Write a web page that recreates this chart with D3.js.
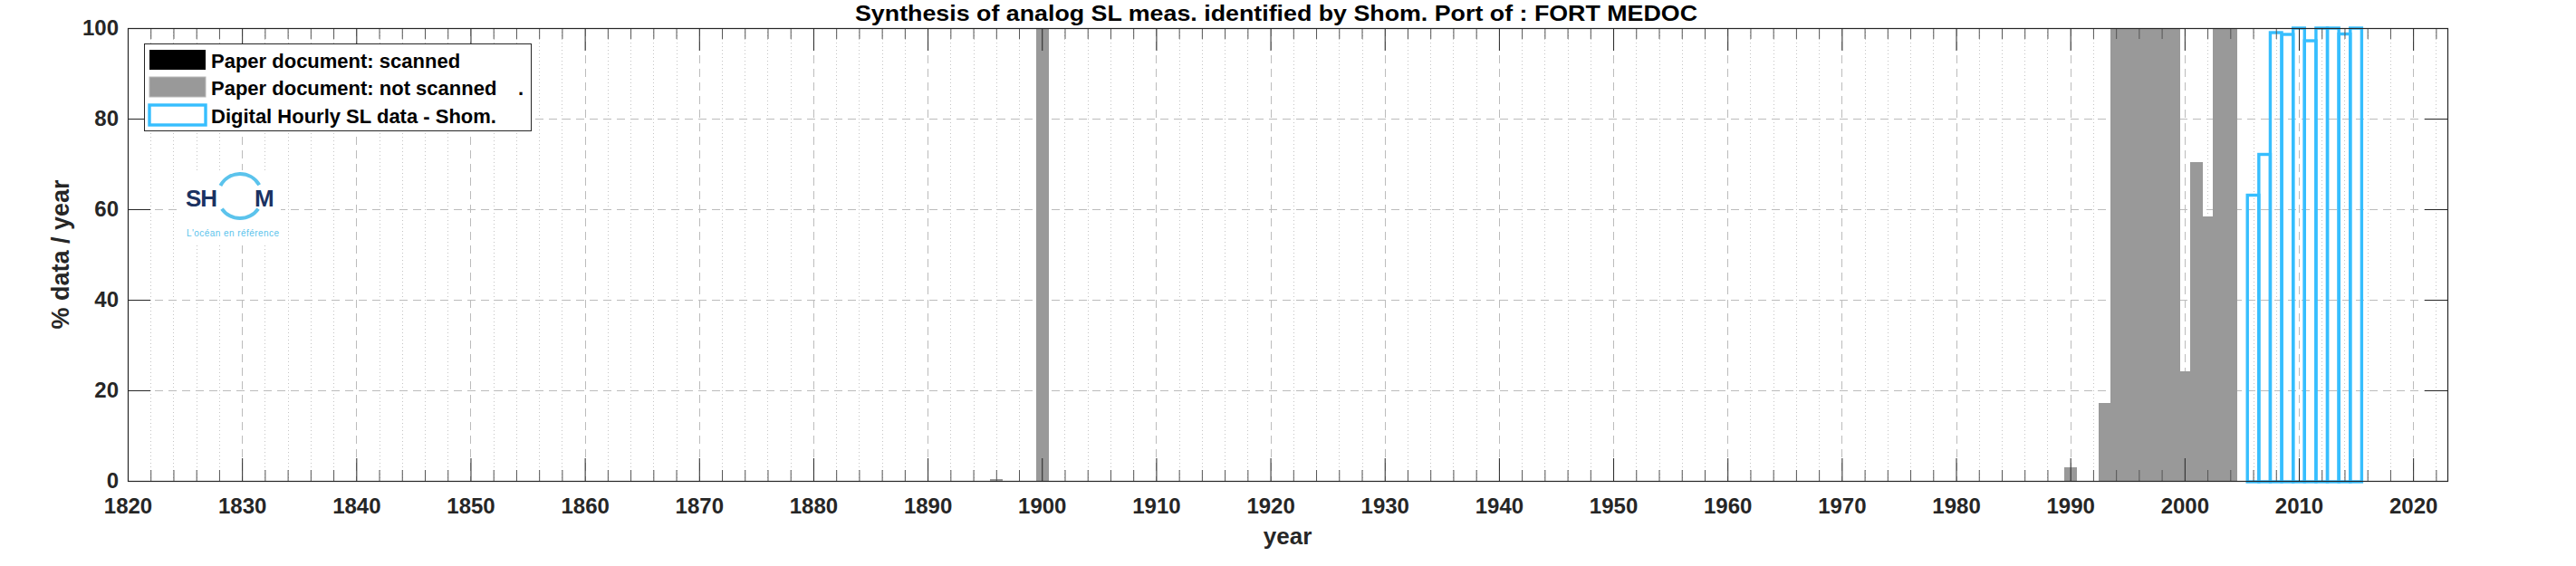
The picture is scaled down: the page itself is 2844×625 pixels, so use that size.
<!DOCTYPE html>
<html>
<head>
<meta charset="utf-8">
<script src="https://cdn.jsdelivr.net/npm/d3@7"></script>
<style>
  html, body { margin: 0; padding: 0; background: #ffffff; }
  svg { display: block; }
  text { font-family: "Liberation Sans", Arial, Helvetica, sans-serif; }
</style>
</head>
<body>
<div id="chart"></div>
<script>
// ---------------- DATA ----------------
const titleText = "Synthesis of analog SL meas. identified by Shom. Port of : FORT MEDOC";
const xLabel = "year";
const yLabel = "% data / year";

// Paper document: scanned (none for this port)
const scannedYears = [];
const scannedValues = [];

// Paper document: not scanned
const notScannedYears  = [1896, 1900, 1990, 1993, 1994, 1995, 1996, 1997, 1998, 1999, 2000, 2001, 2002, 2003, 2004];
const notScannedValues = [0.5,  100,  3,    17.2, 100,  100,  100,  100,  100,  100,  24.2, 70.4, 58.5, 100,  100];

// Digital hourly SL data - Shom
const digitalYears  = [2006, 2007, 2008, 2009, 2010, 2011, 2012, 2013, 2014, 2015];
const digitalValues = [63.1, 72.1, 99.0, 98.6, 100,  97.2, 100,  100,  98.7, 100];

const xTickValues = [1820, 1830, 1840, 1850, 1860, 1870, 1880, 1890, 1900, 1910, 1920, 1930, 1940, 1950, 1960, 1970, 1980, 1990, 2000, 2010, 2020];
const yTickValues = [0, 20, 40, 60, 80, 100];
const legendLabels = ["Paper document: scanned", "Paper document: not scanned", "Digital Hourly SL data - Shom."];

// ---------------- LAYOUT ----------------
const W = 2844, H = 625;
const plot = { left: 141, top: 31, right: 2702, bottom: 531 };
const xDomain = [1820, 2023];
const yDomain = [0, 100];

const svg = d3.select("#chart").append("svg")
  .attr("width", W).attr("height", H)
  .attr("viewBox", `0 0 ${W} ${H}`);

svg.append("rect").attr("width", W).attr("height", H).attr("fill", "#ffffff");

const x = d3.scaleLinear().domain(xDomain).range([plot.left, plot.right]);
const y = d3.scaleLinear().domain(yDomain).range([plot.bottom, plot.top]);

// minor x positions every 2 years (excluding majors)
const minorX = d3.range(1822, 2023, 2).filter(v => v % 10 !== 0);

// ---------------- GRID ----------------
const grid = svg.append("g").attr("class", "grid");
grid.selectAll("line.minor").data(minorX).join("line")
  .attr("x1", d => Math.round(x(d)) + 0.5).attr("x2", d => Math.round(x(d)) + 0.5)
  .attr("y1", plot.top).attr("y2", plot.bottom)
  .attr("stroke", "#c4c4c4").attr("stroke-width", 1)
  .attr("stroke-dasharray", "1,3");
grid.selectAll("line.majx").data(xTickValues.filter(v => v > xDomain[0])).join("line")
  .attr("x1", d => Math.round(x(d)) + 0.5).attr("x2", d => Math.round(x(d)) + 0.5)
  .attr("y1", plot.top).attr("y2", plot.bottom)
  .attr("stroke", "#bcbcbc").attr("stroke-width", 1)
  .attr("stroke-dasharray", "9,6");
grid.selectAll("line.majy").data(yTickValues.filter(v => v > 0 && v < 100)).join("line")
  .attr("x1", plot.left).attr("x2", plot.right)
  .attr("y1", d => Math.round(y(d)) + 0.5).attr("y2", d => Math.round(y(d)) + 0.5)
  .attr("stroke", "#bcbcbc").attr("stroke-width", 1)
  .attr("stroke-dasharray", "9,6");

// ---------------- LOGO ----------------
const logo = svg.append("g").attr("class", "logo");
logo.append("rect").attr("x", 200).attr("y", 188).attr("width", 110).attr("height", 80).attr("fill", "#ffffff");
const ringArc = d3.arc().innerRadius(22.5).outerRadius(26.5);
logo.append("path").attr("transform", "translate(265,216.5)")
  .attr("d", ringArc({ startAngle: -62 * Math.PI / 180, endAngle: 60 * Math.PI / 180 }))
  .attr("fill", "#5bc3ec");
logo.append("path").attr("transform", "translate(265,216.5)")
  .attr("d", ringArc({ startAngle: 125 * Math.PI / 180, endAngle: 235 * Math.PI / 180 }))
  .attr("fill", "#5bc3ec");
logo.append("text").attr("x", 205).attr("y", 228).text("SH")
  .attr("font-size", 26).attr("font-weight", "bold").attr("textLength", 35).attr("fill", "#1b3262");
logo.append("text").attr("x", 281).attr("y", 228).text("M")
  .attr("font-size", 26).attr("font-weight", "bold").attr("textLength", 26).attr("fill", "#1b3262");
logo.append("text").attr("x", 206).attr("y", 261).text("L'océan en référence")
  .attr("font-size", 10).attr("textLength", 102).attr("fill", "#5bc3ec");

// ---------------- BARS ----------------
const bars = svg.append("g").attr("class", "bars");
const notScanned = notScannedYears.map((yr, i) => ({ yr, v: notScannedValues[i] }));
const scanned = scannedYears.map((yr, i) => ({ yr, v: scannedValues[i] }));
const digital = digitalYears.map((yr, i) => ({ yr, v: digitalValues[i] }));

bars.selectAll("rect.ns").data(notScanned).join("rect")
  .attr("x", d => Math.round(x(d.yr - 0.5)))
  .attr("width", d => Math.round(x(d.yr + 0.5)) - Math.round(x(d.yr - 0.5)) + 1)
  .attr("y", d => Math.round(y(d.v))).attr("height", d => Math.round(y(0)) - Math.round(y(d.v)))
  .attr("fill", "#999999").attr("shape-rendering", "crispEdges");

bars.selectAll("rect.sc").data(scanned).join("rect")
  .attr("x", d => x(d.yr - 0.5)).attr("width", d => x(d.yr + 0.5) - x(d.yr - 0.5))
  .attr("y", d => y(d.v)).attr("height", d => y(0) - y(d.v))
  .attr("fill", "#000000");

bars.selectAll("rect.dg").data(digital).join("rect")
  .attr("x", d => x(d.yr - 0.5)).attr("width", d => x(d.yr + 0.5) - x(d.yr - 0.5))
  .attr("y", d => y(d.v)).attr("height", d => y(0) - y(d.v) + 1)
  .attr("fill", "none").attr("stroke", "#36befe").attr("stroke-width", 3.4);

// ---------------- AXES ----------------
const axisColor = "#262626";
function styleAxis(g) {
  g.select(".domain").remove();
  g.selectAll(".tick line").attr("stroke", axisColor).attr("stroke-width", 1);
  g.selectAll(".tick text").attr("fill", axisColor).attr("font-size", 24).attr("font-weight", "bold")
    .attr("font-family", "'Liberation Sans', Arial, Helvetica, sans-serif");
}

// bottom major with labels
svg.append("g").attr("transform", `translate(0,${plot.bottom})`)
  .call(d3.axisBottom(x).tickValues(xTickValues).tickFormat(d3.format("d")).tickSizeInner(-25).tickSizeOuter(0).tickPadding(19))
  .call(styleAxis);
// bottom minor
svg.append("g").attr("transform", `translate(0,${plot.bottom})`)
  .call(d3.axisBottom(x).tickValues(minorX).tickFormat("").tickSizeInner(-12).tickSizeOuter(0))
  .call(styleAxis)
  .selectAll(".tick line").attr("stroke", "#555555");
// top major/minor
svg.append("g").attr("transform", `translate(0,${plot.top})`)
  .call(d3.axisTop(x).tickValues(xTickValues).tickFormat("").tickSizeInner(-25).tickSizeOuter(0))
  .call(styleAxis);
svg.append("g").attr("transform", `translate(0,${plot.top})`)
  .call(d3.axisTop(x).tickValues(minorX).tickFormat("").tickSizeInner(-12).tickSizeOuter(0))
  .call(styleAxis)
  .selectAll(".tick line").attr("stroke", "#555555");
// left
svg.append("g").attr("transform", `translate(${plot.left},0)`)
  .call(d3.axisLeft(y).tickValues(yTickValues).tickFormat(d3.format("d")).tickSizeInner(-25).tickSizeOuter(0).tickPadding(10))
  .call(styleAxis);
// right
svg.append("g").attr("transform", `translate(${plot.right},0)`)
  .call(d3.axisRight(y).tickValues(yTickValues).tickFormat("").tickSizeInner(-25).tickSizeOuter(0))
  .call(styleAxis);

// box
svg.append("rect")
  .attr("x", plot.left + 0.5).attr("y", plot.top + 0.5)
  .attr("width", plot.right - plot.left).attr("height", plot.bottom - plot.top)
  .attr("fill", "none").attr("stroke", axisColor).attr("stroke-width", 1.2);

// ---------------- LABELS ----------------
svg.append("text").attr("x", 1409).attr("y", 23)
  .attr("text-anchor", "middle").attr("font-size", 24).attr("font-weight", "bold").attr("fill", "#000")
  .attr("textLength", 930).attr("lengthAdjust", "spacingAndGlyphs")
  .text(titleText);
svg.append("text").attr("x", (plot.left + plot.right) / 2).attr("y", 601)
  .attr("text-anchor", "middle").attr("font-size", 26).attr("font-weight", "bold").attr("fill", axisColor)
  .text(xLabel);
svg.append("text").attr("transform", `translate(76,${(plot.top + plot.bottom) / 2}) rotate(-90)`)
  .attr("text-anchor", "middle").attr("font-size", 27).attr("font-weight", "bold").attr("fill", axisColor)
  .text(yLabel);

// ---------------- LEGEND ----------------
const leg = svg.append("g").attr("class", "legend");
leg.append("rect").attr("x", 159.5).attr("y", 48.5).attr("width", 427).attr("height", 96)
  .attr("fill", "#ffffff").attr("stroke", axisColor).attr("stroke-width", 1);
const legendRows = [
  { label: legendLabels[0], fill: "#000000", stroke: "none", sw: 0, extra: "" },
  { label: legendLabels[1], fill: "#999999", stroke: "#b8b8b8", sw: 1, extra: "." },
  { label: legendLabels[2], fill: "#ffffff", stroke: "#36befe", sw: 3.4, extra: "" }
];
const rowBase = [75, 105, 136];
legendRows.forEach((r, i) => {
  leg.append("rect").attr("x", 165).attr("y", rowBase[i] - 20).attr("width", 62).attr("height", 22)
    .attr("fill", r.fill).attr("stroke", r.stroke).attr("stroke-width", r.sw);
  leg.append("text").attr("x", 233).attr("y", rowBase[i]).attr("font-size", 22).attr("font-weight", "bold")
    .attr("fill", "#000").text(r.label);
  if (r.extra) {
    leg.append("text").attr("x", 572).attr("y", rowBase[i]).attr("font-size", 22).attr("font-weight", "bold")
      .attr("fill", "#000").text(r.extra);
  }
});
</script>
</body>
</html>
